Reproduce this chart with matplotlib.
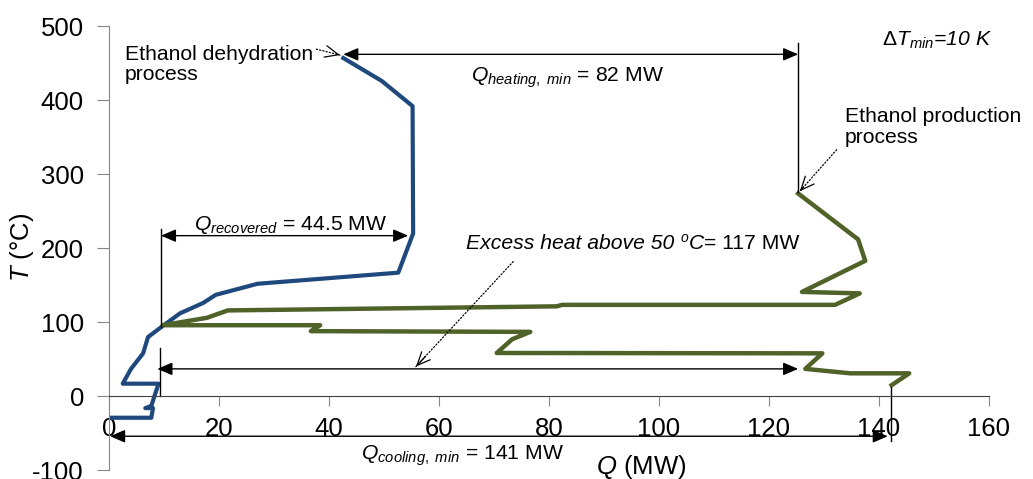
import matplotlib
matplotlib.use('Agg')
import matplotlib.pyplot as plt

# --- dữ liệu ---
# Ethanol dehydration (xanh dương)
dehyd_q = [42.6, 49.6, 55.2, 55.3, 52.6, 27.0, 19.4, 17.1, 12.9, 9.6, 7.1, 6.2, 4.0, 2.5, 9.0, 7.7, 6.6, 8.0, 7.7, 0.0]
dehyd_t = [457, 426, 392, 220, 167, 152, 137, 126, 112, 94, 80, 58, 37, 17, 17, -13, -16, -16, -29, -29]
# Ethanol production (xanh lá)
prod_q = [125.3, 136.2, 137.5, 126.0, 136.5, 132.0, 82.4, 81.4, 21.6, 17.8, 9.8, 38.4, 36.7, 76.6, 73.3, 70.5, 129.7, 126.6, 134.8, 145.5, 142.3]
prod_t = [274, 212, 183, 141, 139, 123.5, 123.5, 121.5, 116, 106, 96, 96, 88, 87, 77, 58.5, 58, 37, 31, 31, 15]

x_ticks = [0, 20, 40, 60, 80, 100, 120, 140, 160]
y_ticks = [-100, 0, 100, 200, 300, 400, 500]

plt.rcParams['font.family'] = ['Liberation Sans', 'DejaVu Sans']
plt.rcParams['mathtext.fontset'] = 'custom'
plt.rcParams['mathtext.rm'] = 'Liberation Sans'
plt.rcParams['mathtext.it'] = 'Liberation Sans:italic'
plt.rcParams['mathtext.sf'] = 'Liberation Sans'
plt.rcParams['axes.unicode_minus'] = False

fig = plt.figure(figsize=(10.33, 4.79), dpi=100)
ax = fig.add_axes([0.1055, 0.0182, 0.8519, 0.9271])

ax.plot(dehyd_q, dehyd_t, color='#1F497D', lw=3)
ax.plot(prod_q, prod_t, color='#4F6228', lw=3.2)

ax.set_xlim(0, 160)
ax.set_ylim(-100, 500)
ax.set_xticks(x_ticks)
ax.set_yticks(y_ticks)
ax.spines['top'].set_visible(False)
ax.spines['right'].set_visible(False)
ax.spines['bottom'].set_position(('data', 0))
ax.spines['left'].set_color('#868686')
ax.spines['bottom'].set_color('#404040')
ax.tick_params(axis='y', direction='out', length=9, color='#868686', labelsize=18.5, pad=9)
ax.tick_params(axis='x', direction='out', length=7, color='#868686', labelsize=18.5, pad=8)

fs = 15.2
arr = dict(arrowstyle='<|-|>,head_length=0.7,head_width=0.3', mutation_scale=13,
           color='black', lw=1, shrinkA=0, shrinkB=0)


def dim(x0, x1, y):
    ax.annotate('', xy=(x1, y), xytext=(x0, y), arrowprops=arr, annotation_clip=False)


def dotted(start, end):
    ax.annotate('', xy=end, xytext=start,
                arrowprops=dict(arrowstyle='-', ls=':', lw=0.9, color='black', shrinkA=0, shrinkB=0))
    near = (start[0] + 0.9 * (end[0] - start[0]), start[1] + 0.9 * (end[1] - start[1]))
    ax.annotate('', xy=end, xytext=near,
                arrowprops=dict(arrowstyle='->,head_length=0.8,head_width=0.35', mutation_scale=12,
                                lw=0.9, color='black', shrinkA=0, shrinkB=0))


# Q heating
dim(42.6, 125.3, 462)
ax.plot([125.3, 125.3], [477, 276], color='black', lw=1)
ax.text(83.3, 431, r'$Q_{heating,\ min}$ = 82 MW', fontsize=fs, ha='center', va='center')

# Q recovered
dim(9.45, 54.4, 217)
ax.plot([9.45, 9.45], [226, 94], color='black', lw=1)
ax.text(33, 232, r'$Q_{recovered}$ = 44.5 MW', fontsize=fs, ha='center', va='center')

# excess heat
dim(8.8, 125.3, 37)
ax.plot([9.3, 9.3], [65, 1], color='black', lw=1)
t1 = ax.text(65.0, 207, 'Excess heat above 50 ', fontsize=fs, style='italic', ha='left', va='center')
t2 = ax.annotate('o', xy=(1, 0.42), xycoords=t1, fontsize=10, style='italic', ha='left', va='bottom')
t3 = ax.annotate('C', xy=(1, 0), xycoords=(t2, t1), fontsize=fs, style='italic', ha='left', va='bottom')
ax.annotate('= 117 MW', xy=(1, 0), xycoords=t3, fontsize=fs, ha='left', va='bottom')

# Q cooling
dim(0.2, 141.6, -54)
ax.plot([142.1, 142.1], [13, -60], color='black', lw=1, clip_on=False)
ax.text(64.2, -81, r'$Q_{cooling,\ min}$ = 141 MW', fontsize=fs, ha='center', va='center', clip_on=False)

ax.text(140.5, 481, r'$\Delta T_{min}$=10 K', fontsize=fs, style='italic', ha='left', va='center')

ax.text(2.9, 448, 'Ethanol dehydration\nprocess', fontsize=fs, ha='left', va='center', linespacing=1.1)
ax.text(133.8, 364, 'Ethanol production\nprocess', fontsize=fs, ha='left', va='center', linespacing=1.1)

dotted((37.7, 469), (42.0, 461))
dotted((132.3, 333), (125.6, 277))
dotted((73.5, 182), (55.8, 40))

ax.text(96.7, -95, r'$Q$ (MW)', fontsize=18.5, ha='center', va='center', clip_on=False)
fig.text(22 / 1033, 1 - 247 / 479, r'$T$ (°C)', fontsize=18.5, rotation=90, ha='center', va='center')

fig.savefig('out.png', dpi=100)
